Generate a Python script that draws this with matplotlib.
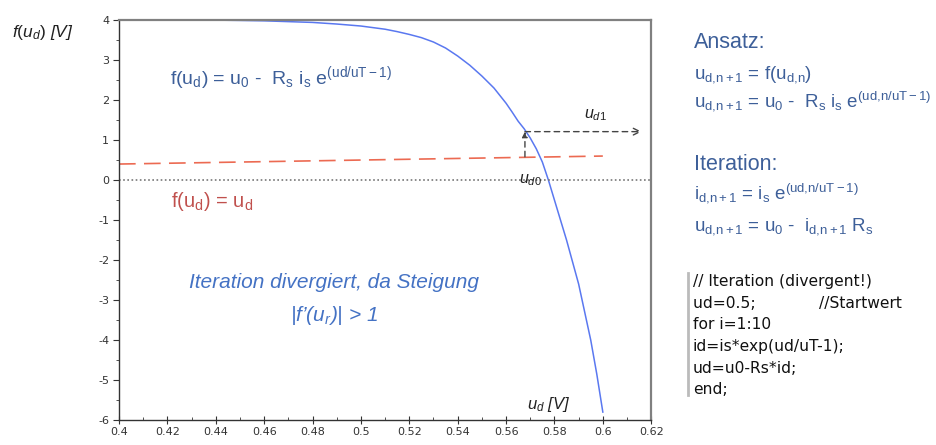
import numpy as np
from matplotlib import pyplot as plt
from matplotlib.ticker import MultipleLocator

plt.rcParams["axes.unicode_minus"] = False
plt.rcParams["mathtext.fontset"] = "custom"
plt.rcParams["mathtext.rm"] = "Liberation Sans"
plt.rcParams["mathtext.it"] = "Liberation Sans:italic"

#   values
ud_curve = [0.437, 0.45, 0.46, 0.47, 0.48, 0.49, 0.50, 0.51, 0.515, 0.52, 0.525,
            0.53, 0.535, 0.54, 0.545, 0.55, 0.555, 0.56, 0.5625, 0.565, 0.5675,
            0.57, 0.5725, 0.575, 0.5775, 0.58, 0.5825, 0.585, 0.5875, 0.59,
            0.5925, 0.595, 0.5975, 0.60]
f_curve = [4.0, 3.99, 3.98, 3.96, 3.94, 3.9, 3.85, 3.77, 3.71, 3.64, 3.56,
           3.45, 3.3, 3.1, 2.87, 2.6, 2.3, 1.92, 1.7, 1.47, 1.28,
           1.05, 0.78, 0.45, 0.0, -0.5, -1.0, -1.5, -2.05, -2.6,
           -3.3, -4.0, -4.85, -5.8]
ud_line = [0.4, 0.6]
f_line = [0.4, 0.6]
ud0, f_ud0_low, f_ud0_high = 0.5678, 0.58, 1.21
arrow_end = 0.616

blue_txt = "#3d5f99"
code_lines = ["// Iteration (divergent!)",
              "ud=0.5;             //Startwert",
              "for i=1:10",
              "id=is*exp(ud/uT-1);",
              "ud=u0-Rs*id;",
              "end;"]

fig = plt.figure(figsize=(9.37, 4.45), dpi=100)
ax = fig.add_axes([0.127, 0.056, 0.568, 0.899])

ax.plot(ud_curve, f_curve, color="#5a78f0", lw=1.1)
ax.plot(ud_line, f_line, color="#ec6a52", lw=1.2, dashes=(10, 5))
ax.axhline(0, color="#777777", lw=1.2, ls=(0, (1, 1.5)))

#   iteration arrows
ax.annotate("", xy=(ud0, f_ud0_high), xytext=(ud0, f_ud0_low),
            arrowprops=dict(arrowstyle="-|>", color="#444444", lw=1.0, ls=(0, (4, 3)),
                            mutation_scale=8, shrinkA=0, shrinkB=0))
ax.annotate("", xy=(arrow_end, f_ud0_high), xytext=(ud0, f_ud0_high),
            arrowprops=dict(arrowstyle="->", color="#444444", lw=1.0, ls=(0, (4, 3)),
                            mutation_scale=12, shrinkA=0, shrinkB=0))

ax.set_xlim(0.4, 0.62)
ax.set_ylim(-6, 4)
ax.xaxis.set_minor_locator(MultipleLocator(0.01))
ax.yaxis.set_major_locator(MultipleLocator(1))
ax.yaxis.set_minor_locator(MultipleLocator(0.5))
ax.set_xticks(np.round(np.arange(0.4, 0.621, 0.02), 2))
ax.set_xticklabels(["0.4", "0.42", "0.44", "0.46", "0.48", "0.5", "0.52",
                    "0.54", "0.56", "0.58", "0.6", "0.62"])
ax.tick_params(axis="x", which="major", direction="inout", length=6,
               labelsize=8, colors="#333333", pad=2)
ax.tick_params(axis="x", which="minor", direction="in", length=2, colors="#333333")
ax.tick_params(axis="y", which="major", direction="out", length=4,
               labelsize=8, colors="#333333", pad=3)
ax.tick_params(axis="y", which="minor", direction="out", length=2, colors="#333333")
for side in ["left", "bottom"]:
    ax.spines[side].set_color("#333333")
    ax.spines[side].set_linewidth(1.0)
for side in ["top", "right"]:
    ax.spines[side].set_color("#808080")
    ax.spines[side].set_linewidth(1.6)

#   annotations in the plot
ax.text(0.421, 2.55, r"f(u$_\mathrm{d}$) = u$_\mathrm{0}$ -  R$_\mathrm{s}$ i$_\mathrm{s}$ e$^\mathrm{(ud/uT-1)}$",
        color=blue_txt, fontsize=14, family="Liberation Sans", va="center")
ax.text(0.4215, -0.54, r"f(u$_\mathrm{d}$) = u$_\mathrm{d}$",
        color="#c0504d", fontsize=14.5, family="Liberation Sans", va="center")
ax.text(0.489, -2.57, "Iteration divergiert, da Steigung", color="#4472c4",
        fontsize=15, family="Liberation Sans", style="italic", ha="center", va="center")
ax.text(0.489, -3.39, r"|f’(u$_\mathit{r}$)| > 1", color="#4472c4",
        fontsize=15, family="Liberation Sans", style="italic", ha="center", va="center")
ax.text(0.5777, -5.62, r"$u_d$ [V]", fontsize=12, family="Liberation Sans",
        style="italic", ha="center", va="center", color="#222222")
ax.text(0.597, 1.62, r"$u_{d1}$", fontsize=11.5, ha="center", va="center", color="#222222")
ax.text(0.570, 0.0, r"$u_{d0}$", fontsize=11.5, ha="center", va="center", color="#222222")

fig.text(0.013, 0.926, r"$f(u_d)$ [V]", fontsize=12.5, family="Liberation Sans",
         style="italic", va="center", color="#222222")

#   right hand text block
right_x = 694 / 937
rows = [(42, "Ansatz:"),
        (75, r"u$_\mathrm{d{,}n+1}$ = f(u$_\mathrm{d{,}n}$)"),
        (101, r"u$_\mathrm{d{,}n+1}$ = u$_\mathrm{0}$ -  R$_\mathrm{s}$ i$_\mathrm{s}$ e$^\mathrm{(ud{,}n/uT-1)}$"),
        (165, "Iteration:"),
        (193, r"i$_\mathrm{d{,}n+1}$ = i$_\mathrm{s}$ e$^\mathrm{(ud{,}n/uT-1)}$"),
        (227, r"u$_\mathrm{d{,}n+1}$ = u$_\mathrm{0}$ -  i$_\mathrm{d{,}n+1}$ R$_\mathrm{s}$")]
for y_px, s in rows:
    fs = 15.5 if s.endswith(":") else 13.5
    fig.text(right_x, 1 - y_px / 445, s, color=blue_txt, fontsize=fs,
             family="Liberation Sans", va="center")

for i, line in enumerate(code_lines):
    fig.text(693 / 937, 1 - (281.7 + i * 21.6) / 445, line, fontsize=11.2,
             family="DejaVu Sans", va="center", color="#111111")
fig.add_artist(plt.Line2D([688 / 937, 688 / 937], [1 - 273 / 445, 1 - 395 / 445],
                          color="#bbbbbb", lw=2))

fig.savefig("out.png", dpi=100)
